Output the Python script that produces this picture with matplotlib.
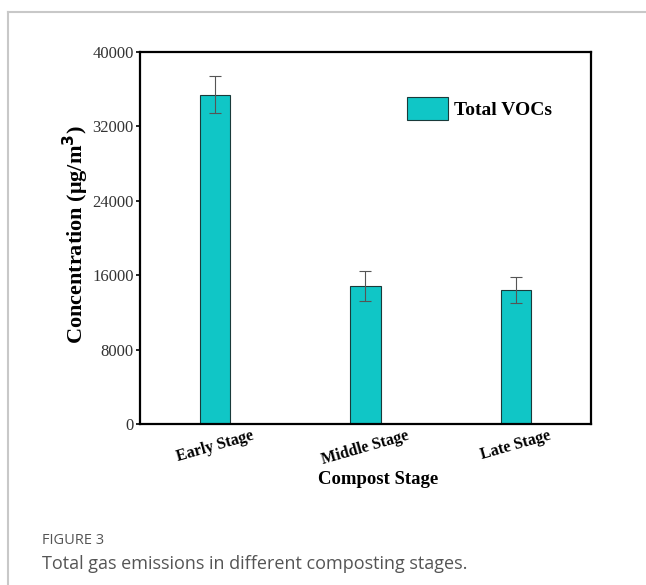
import matplotlib
matplotlib.use('Agg')
import matplotlib.pyplot as plt
from matplotlib.lines import Line2D
from matplotlib.patches import Patch

# Compost VOC data
stages = ["Early Stage", "Middle Stage", "Late Stage"]
total_vocs = [35400, 14800, 14400]
vocs_err = [2000, 1600, 1400]
y_ticks = [0, 8000, 16000, 24000, 32000, 40000]

BAR = "#10c6c6"
SERIF = ["Liberation Serif", "DejaVu Serif"]

fig = plt.figure(figsize=(6.46, 5.85), dpi=100)
ax = fig.add_axes([140 / 646, 1 - 424 / 585, 451 / 646, 372 / 585])

x = list(range(len(stages)))
ax.bar(x, total_vocs, width=0.2, color=BAR, edgecolor="#1a3a3a", linewidth=0.8,
       yerr=vocs_err, error_kw=dict(ecolor="#555555", elinewidth=0.8, capsize=4, capthick=0.8))

ax.set_xlim(-0.5, 2.5)
ax.set_ylim(0, 40000)
ax.set_yticks(y_ticks)
ax.set_yticklabels([str(v) for v in y_ticks], fontfamily=SERIF, fontsize=12, color="#333333")
ax.set_xticks(x)
ax.set_xticklabels(stages, rotation=16, fontfamily=SERIF, fontsize=11.5, fontweight="bold")
ax.tick_params(axis="y", direction="out", length=3, width=1.2, pad=1.5)
ax.tick_params(axis="x", length=0, pad=3)
for spine in ax.spines.values():
    spine.set_linewidth(1.6)

ax.set_ylabel("Concentration (μg/m$^\\mathbf{3}$)", fontfamily=SERIF, fontsize=16,
              fontweight="bold", va="center")
ax.yaxis.set_label_coords(-0.142, 0.508)
ax.set_xlabel("Compost Stage", fontfamily=SERIF, fontsize=13.5, fontweight="bold", va="center")
ax.xaxis.set_label_coords(0.528, -0.15)

ax.legend(handles=[Patch(facecolor=BAR, edgecolor="#1a3a3a", linewidth=0.8, label="Total VOCs")],
          loc="upper left", bbox_to_anchor=(0.592, 0.878), frameon=False,
          prop={"family": SERIF, "weight": "bold", "size": 14},
          handlelength=2.1, handleheight=1.4, handletextpad=0.3, borderpad=0, borderaxespad=0)

# page frame and caption
fig.add_artist(Line2D([8 / 646, 8 / 646], [0, 1 - 12 / 585], color="#c8c8c8", lw=1.5))
fig.add_artist(Line2D([8 / 646, 1], [1 - 12 / 585, 1 - 12 / 585], color="#c8c8c8", lw=1.5))
fig.text(42 / 646, 1 - 541 / 585, "FIGURE 3", fontfamily="Open Sans", fontsize=10.5,
         color="#555555", va="center")
fig.text(42 / 646, 1 - 564 / 585, "Total gas emissions in different composting stages.",
         fontfamily="Open Sans", fontsize=13, color="#555555", va="center")

plt.savefig("out.png", dpi=100, facecolor="white")
plt.close()
